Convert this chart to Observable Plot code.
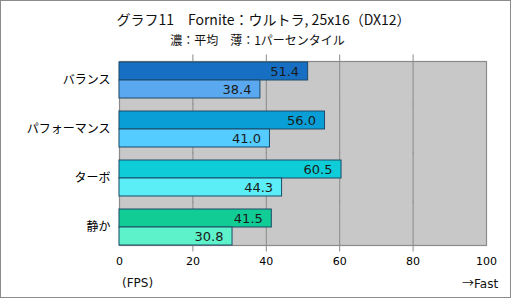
<!DOCTYPE html>
<html><head><meta charset="utf-8">
<script src="https://cdn.jsdelivr.net/npm/d3@7"></script>
<script src="https://cdn.jsdelivr.net/npm/@observablehq/plot@0.6"></script>
<style>
body{margin:0;background:#fff;}
#wrap{position:relative;width:511px;height:298px;overflow:hidden;}
#border{position:absolute;left:0;top:0;width:509px;height:296px;border:1px solid #8c8c8c;pointer-events:none;}
.t{position:absolute;white-space:nowrap;font-family:"Noto Sans CJK JP","Noto Sans",sans-serif;color:#111;}
#title{left:8px;width:511px;text-align:center;top:9px;font-size:14px;}
#sub{left:2px;width:511px;text-align:center;top:31px;font-size:12px;}
#fps{left:122px;top:276px;font-size:12px;font-family:"DejaVu Sans",sans-serif;}
#fast{left:462px;top:274px;font-size:12px;font-family:"DejaVu Sans",sans-serif;}
#fast span{font-family:"Noto Sans CJK JP",sans-serif;}
svg{position:absolute;left:0;top:0;}
</style></head>
<body><div id="wrap"><div id="chart"></div>
<div class="t" id="title">グラフ11　Fornite：ウルトラ, 25x16（DX12）</div>
<div class="t" id="sub">濃：平均　薄：1パーセンタイル</div>
<div class="t" id="fps">(FPS)</div>
<div class="t" id="fast"><span>→</span>Fast</div>
<div id="border"></div></div>
<script>
const groups = ["バランス","パフォーマンス","ターボ","静か"];
const series = ["平均","1パーセンタイル"];
const avgValues = [51.4, 56.0, 60.5, 41.5];
const lowValues = [38.4, 41.0, 44.3, 30.8];
const darkColors = ["#176fc4","#0a9ed6","#0fcdd8","#12cc96"];
const lightColors = ["#5aa9f0","#55ccff","#5ceef6","#5df2c9"];
const xTicks = [0,20,40,60,80,100];
const gridTicks = [20,40,60,80];

const data = [];
groups.forEach((g,i)=>{
  data.push({group:g, series:series[0], value:avgValues[i], color:darkColors[i]});
  data.push({group:g, series:series[1], value:lowValues[i], color:lightColors[i]});
});

const chart = Plot.plot({
  width:511, height:298,
  marginLeft:119, marginRight:25, marginTop:53, marginBottom:46,
  style:{fontFamily:"'DejaVu Sans','Noto Sans CJK JP',sans-serif", background:"transparent"},
  x:{domain:[0,100], ticks:xTicks, tickSize:0, tickPadding:12, label:null},
  y:{domain:series, axis:null, padding:0},
  fy:{domain:groups, paddingInner:0.25, paddingOuter:0.125, label:null, tickSize:0, tickPadding:9},
  facet:{data, y:"group", label:null},
  marks:[
    Plot.frame({facet:"super", fill:"#c8c8c8", stroke:null}),
    Plot.ruleX(gridTicks, {stroke:"#8a8a8a", strokeWidth:1, insetTop:-6.5, insetBottom:-6.5}),
    Plot.frame({facet:"super", stroke:"#8a8a8a", strokeWidth:1.2}),
    Plot.barX(data, {x:"value", y:"series", fill:"color", stroke:"#1d4a68", strokeWidth:1}),
    Plot.text(data, {x:"value", y:"series", text:d=>d.value.toFixed(1), textAnchor:"end", dx:-9, fontSize:13, fill:"#1a1a1a"}),
    Plot.axisFy({anchor:"left", tickSize:0, tickPadding:9, fontSize:12, label:null, fontFamily:"'Noto Sans CJK JP',sans-serif"}),
    Plot.axisX({ticks:xTicks, tickSize:0, tickPadding:12, fontSize:11, label:null})
  ]
});
document.getElementById("chart").appendChild(chart);
</script></body></html>
